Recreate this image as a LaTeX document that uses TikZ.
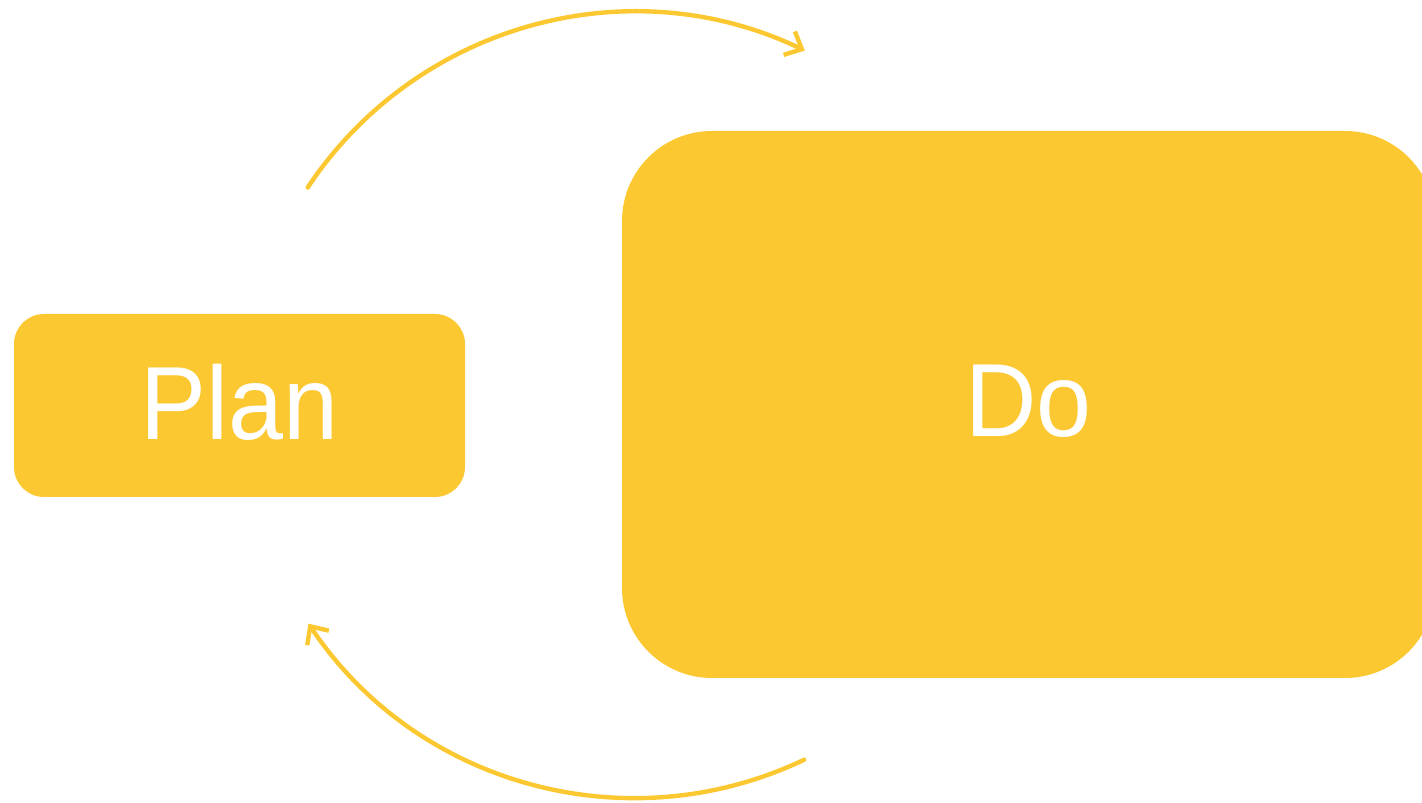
\documentclass[tikz,border=0pt]{standalone}
\usepackage{fontspec}
\setmainfont{Liberation Sans}
\newfontfamily\stagefont[FakeStretch=0.95]{Liberation Sans}
\usetikzlibrary{positioning,arrows.meta}
\definecolor{pdcaY}{RGB}{252,200,50}

\begin{document}
\begin{tikzpicture}[
  x=0.5pt, y=0.5pt,
  stage/.style={fill=pdcaY, draw=none, text=white, inner sep=0pt,
    font=\stagefont\fontsize{52}{58}\selectfont},
  cycle/.style={draw=pdcaY, line width=2.2pt, line cap=round,
    -{Straight Barb[length=7pt, width=13pt, line width=2.2pt]}},
]
\clip (0,0) rectangle (1422,802);

% ---------- stages ----------
\node[stage, minimum width=225.5pt, minimum height=91.5pt, rounded corners=15pt]
  (plan) at (239.5,396.5) {\raisebox{4pt}{Plan}};
\node[stage, minimum width=406.5pt, minimum height=273.5pt, rounded corners=45pt]
  (do) at (1028.5,397.5) {\raisebox{4pt}{Do}};

% ---------- cycle arcs ----------
\coordinate (topstart) at ([shift={(146.4:393)}]635,397);
\coordinate (botstart) at ([shift={(-64.5:393)}]635,397);
\draw[cycle] (topstart) arc[start angle=146.4, end angle=64.4, radius=393];
\draw[cycle] (botstart) arc[start angle=-64.5, end angle=-146.2, radius=393];

\end{tikzpicture}
\end{document}
